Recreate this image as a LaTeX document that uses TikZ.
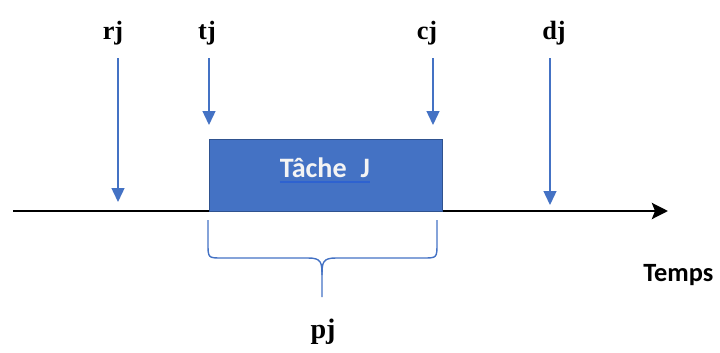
\documentclass[tikz,border=0pt]{standalone}
\usepackage{fontspec}
\setmainfont{Liberation Serif}
\newfontfamily\calibri{Carlito}
\usetikzlibrary{arrows.meta}
\definecolor{blue}{HTML}{4472C4}
\definecolor{darkblue}{HTML}{2F528F}
\definecolor{linkblue}{HTML}{2E62D0}
\definecolor{white}{HTML}{F4F4F4}

\begin{document}
\begin{tikzpicture}[x=0.02cm,y=-0.02cm]
    \tikzstyle{datelabel}=[font=\bfseries\fontsize{15}{18}\selectfont, anchor=base, inner sep=0pt]
    \tikzstyle{down}=[blue, line width=0.8pt, -{Triangle[length=2.8mm,width=2.6mm]}]
    \useasboundingbox (0,0) rectangle (720,352);
    % Time axis
    \coordinate (start) at (13,211);
    \coordinate (end) at (668,211);
    \draw[line width=1.6pt, -{Stealth[length=3.2mm,width=3.2mm,inset=0.6mm]}] (start) -- (end);
    \node[font=\calibri\bfseries\fontsize{15}{18}\selectfont, anchor=base west, inner sep=0pt] (temps) at (643,281) {Temps};
    % Draw the task
    \node[draw=darkblue, fill=blue, line width=0.8pt, anchor=south west, minimum width=4.66cm, minimum height=1.44cm, inner sep=0pt] (task) at (209,212) {};
    \node[font=\calibri\bfseries\fontsize{16}{19}\selectfont, text=white, anchor=base, inner sep=0pt] (name) at (325,177) {Tâche\hspace{0.5em}J};
    \draw[linkblue, line width=1.1pt] ([yshift=-2.8pt]name.base west) -- ([yshift=-2.8pt]name.base east);
    % Dates and their arrows
    \foreach \name/\lx/\ax/\tip in {rj/113/118/202, tj/207/209/125, cj/427/433/125, dj/554/550/205} {
        \node[datelabel] (\name) at (\lx,39) {\name};
        \coordinate (\name-top) at (\ax,58);
        \coordinate (\name-tip) at (\ax,\tip);
        \draw[down] (\name-top) -- (\name-tip);
    }
    % Brace for the duration
    \draw[blue, line width=0.8pt] (208,220) -- (208,243) .. controls (208,258) .. (222,258) -- (308,258)
        .. controls (321,258) and (322,262) .. (322,275) -- (322,297);
    \draw[blue, line width=0.8pt] (437,220) -- (437,243) .. controls (437,258) .. (423,258) -- (336,258)
        .. controls (323,258) and (322,262) .. (322,275);
    \node[datelabel, font=\bfseries\fontsize{16}{19}\selectfont] (pj) at (323,338) {pj};
\end{tikzpicture}
\end{document}
